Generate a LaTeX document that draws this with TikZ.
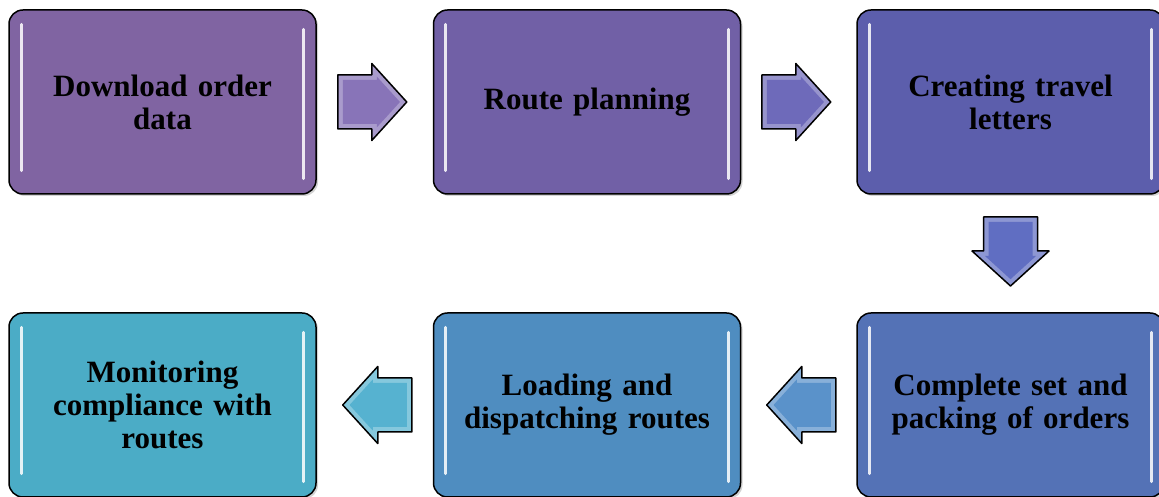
\documentclass[tikz,border=0pt]{standalone}
\usepackage{fontspec}
\setmainfont{Liberation Serif}
\usetikzlibrary{calc,shadows}
\definecolor{cA}{RGB}{128,100,162}
\definecolor{cB}{RGB}{113,96,166}
\definecolor{cC}{RGB}{92,94,172}
\definecolor{cD}{RGB}{84,114,182}
\definecolor{cE}{RGB}{79,141,192}
\definecolor{cF}{RGB}{75,172,198}
\definecolor{aA}{RGB}{136,116,184}
\definecolor{aB}{RGB}{110,106,186}
\definecolor{aC}{RGB}{96,110,194}
\definecolor{aD}{RGB}{90,146,202}
\definecolor{aE}{RGB}{86,178,208}
\tikzset{
  stagebox/.style={draw=black, line width=1.5pt, rounded corners=14pt,
    minimum width=307pt, minimum height=184pt, text width=295pt, align=center,
    font=\fontsize{31}{33}\selectfont\bfseries,
    drop shadow={shadow xshift=2pt, shadow yshift=-2pt, opacity=0.35}},
  glint/.style={white, line width=2.6pt, line cap=round, opacity=0.85}
}
\newcommand\blockarr[3]{%
  \begin{scope}[shift={(#1)},rotate=#2]
    \fill[#3!72!white] (-35,-27) -- (-35,27) -- (-1,27) -- (-1,38.5) -- (34,0) -- (-1,-38.5) -- (-1,-27) -- cycle;
    \fill[#3] (-30,-22) -- (-30,22) -- (4,22) -- (4,25.5) -- (27.2,0) -- (4,-25.5) -- (4,-22) -- cycle;
    \draw[line width=1.5pt, line join=round] (-35,-27) -- (-35,27) -- (-1,27) -- (-1,38.5) -- (34,0) -- (-1,-38.5) -- (-1,-27) -- cycle;
  \end{scope}}
\newcommand\glints[1]{%
  \draw[glint] ($(#1.north west)+(13,-15)$) -- ($(#1.south west)+(13,24)$);
  \draw[glint] ($(#1.north east)+(-13,-20)$) -- ($(#1.south east)+(-13,16)$);}
\begin{document}
\begin{tikzpicture}[x=1pt,y=1pt]
\useasboundingbox (0,0) rectangle (1159,497);
\node[stagebox, fill=cA] (b1) at (162.5,395) {Download order\\data};
\node[stagebox, fill=cB] (b2) at (587,395) {Route planning};
\node[stagebox, fill=cC] (b3) at (1010.5,395) {Creating travel\\letters};
\node[stagebox, fill=cD] (b4) at (1010.5,92) {Complete set and\\packing of orders};
\node[stagebox, fill=cE] (b5) at (587,92) {Loading and\\dispatching routes};
\node[stagebox, fill=cF] (b6) at (162.5,92) {Monitoring\\compliance with\\routes};
\glints{b1}\glints{b2}\glints{b3}\glints{b4}\glints{b5}\glints{b6}
\coordinate (m12) at ($(b1.east)!0.5!(b2.west)+(-2,0)$);
\coordinate (m23) at ($(b2.east)!0.5!(b3.west)+(-2,0)$);
\coordinate (m34) at ($(b3.south)!0.5!(b4.north)+(0,1.5)$);
\coordinate (m45) at ($(b4.west)!0.5!(b5.east)+(2,0)$);
\coordinate (m56) at ($(b5.west)!0.5!(b6.east)+(2,0)$);
\blockarr{m12}{0}{aA}
\blockarr{m23}{0}{aB}
\blockarr{m34}{-90}{aC}
\blockarr{m45}{180}{aD}
\blockarr{m56}{180}{aE}
\end{tikzpicture}
\end{document}
